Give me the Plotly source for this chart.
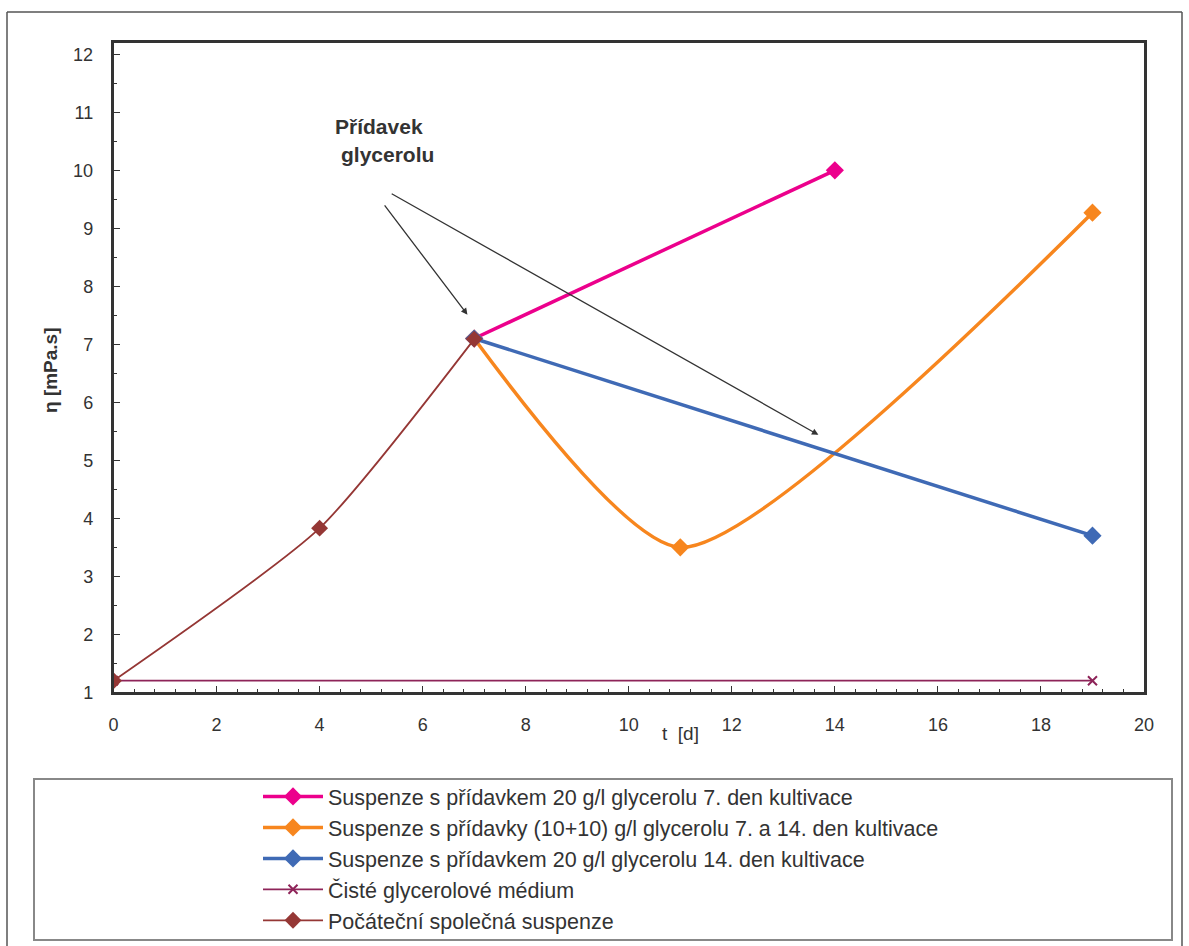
import plotly.graph_objects as go

# Viscosity of suspensions over cultivation time
t_pink = [7, 14]
eta_pink = [7.1, 10.0]

t_orange = [7, 11, 19]
eta_orange = [7.1, 3.5, 9.27]

t_blue = [7, 19]
eta_blue = [7.1, 3.7]

t_medium = [0, 19]
eta_medium = [1.2, 1.2]

t_initial = [0, 4, 7]
eta_initial = [1.2, 3.83, 7.09]

names = [
    "Suspenze s přídavkem 20 g/l glycerolu 7. den kultivace",
    "Suspenze s přídavky (10+10) g/l glycerolu 7. a 14. den kultivace",
    "Suspenze s přídavkem 20 g/l glycerolu 14. den kultivace",
    "Čisté glycerolové médium",
    "Počáteční společná suspenze",
]

x_ticks = list(range(0, 21, 2))
y_ticks = list(range(1, 13))

W, H = 1189, 946
FONT = "Liberation Sans, Arial, sans-serif"
TXT = "#333333"


def px(x):
    return x / W


def py(y):
    return 1 - y / H


fig = go.Figure()

fig.add_trace(go.Scatter(
    x=t_pink, y=eta_pink, name=names[0], mode="lines+markers",
    line=dict(color="#EC008C", width=3.5),
    marker=dict(symbol="diamond", size=14, color="#EC008C"),
))
fig.add_trace(go.Scatter(
    x=t_orange, y=eta_orange, name=names[1], mode="lines+markers",
    line=dict(color="#F7861E", width=3.5, shape="spline", smoothing=0.65),
    marker=dict(symbol="diamond", size=14, color="#F7861E"),
))
fig.add_trace(go.Scatter(
    x=t_blue, y=eta_blue, name=names[2], mode="lines+markers",
    line=dict(color="#3F6AB5", width=3.5),
    marker=dict(symbol="diamond", size=14, color="#3F6AB5"),
))
fig.add_trace(go.Scatter(
    x=t_medium, y=eta_medium, name=names[3], mode="lines+markers",
    line=dict(color="#8E2459", width=1.8),
    marker=dict(symbol="x-thin", size=9, color="#8E2459",
                line=dict(color="#8E2459", width=2)),
))
fig.add_trace(go.Scatter(
    x=t_initial, y=eta_initial, name=names[4], mode="lines+markers",
    line=dict(color="#953735", width=1.8, shape="spline", smoothing=0.6),
    marker=dict(symbol="diamond", size=13, color="#953735"),
))

# Arrows pointing to the glycerol additions
fig.add_annotation(
    x=6.87, y=7.51, ax=5.24, ay=9.42, xref="x", yref="y", axref="x", ayref="y",
    text="", showarrow=True, arrowhead=2, arrowsize=1, arrowwidth=1.3,
    arrowcolor="#333333",
)
fig.add_annotation(
    x=13.68, y=5.44, ax=5.37, ay=9.61, xref="x", yref="y", axref="x", ayref="y",
    text="", showarrow=True, arrowhead=2, arrowsize=1, arrowwidth=1.3,
    arrowcolor="#333333",
)
fig.add_annotation(
    x=px(379), y=py(127), xref="paper", yref="paper", xanchor="center",
    yanchor="middle", text="<b>Přídavek</b>", showarrow=False,
    font=dict(family=FONT, size=21, color=TXT),
)
fig.add_annotation(
    x=px(387), y=py(155), xref="paper", yref="paper", xanchor="center",
    yanchor="middle", text="<b>glycerolu</b>", showarrow=False,
    font=dict(family=FONT, size=21, color=TXT),
)

# Axis titles
fig.add_annotation(
    x=px(680), y=py(733), xref="paper", yref="paper", xanchor="center",
    yanchor="middle", text="t  [d]", showarrow=False,
    font=dict(family=FONT, size=19, color=TXT),
)
fig.add_annotation(
    x=px(50), y=py(370), xref="paper", yref="paper", xanchor="center",
    yanchor="middle", text="<b>η [mPa.s]</b>", showarrow=False,
    textangle=-90, font=dict(family=FONT, size=19, color=TXT),
)

# Outer chart frame (open at the bottom edge of the page) and legend box
frame = dict(color="#555555", width=1.5)
fig.add_shape(type="line", xref="paper", yref="paper",
              x0=px(7), x1=px(1182), y0=py(12), y1=py(12), line=frame)
fig.add_shape(type="line", xref="paper", yref="paper",
              x0=px(7), x1=px(7), y0=py(12), y1=0, line=frame)
fig.add_shape(type="line", xref="paper", yref="paper",
              x0=px(1182), x1=px(1182), y0=py(12), y1=0, line=frame)
fig.add_shape(type="rect", xref="paper", yref="paper",
              x0=px(34), x1=px(1172), y0=py(940), y1=py(779),
              line=dict(color="#888888", width=2), layer="below")

fig.update_layout(
    width=W, height=H,
    margin=dict(l=0, r=0, t=0, b=0),
    paper_bgcolor="white", plot_bgcolor="white",
    font=dict(family=FONT, size=18, color=TXT),
    legend=dict(
        x=px(258), y=py(776), xanchor="left", yanchor="top",
        font=dict(family=FONT, size=21.5, color=TXT),
        bgcolor="rgba(0,0,0,0)", itemwidth=60,
    ),
    xaxis=dict(
        domain=[px(113.5), px(1144)], range=[0, 20], automargin=False,
        tickvals=x_ticks, ticks="inside", ticklen=7, tickwidth=1.2,
        tickcolor="#333333", showline=True, linecolor="#333333", linewidth=2.5,
        mirror=True, showgrid=False, zeroline=False,
        tickfont=dict(family=FONT, size=18, color=TXT), ticklabelstandoff=14,
        minor=dict(dtick=0.4, ticks="inside", ticklen=4, tickcolor="#333333",
                   showgrid=False),
    ),
    yaxis=dict(
        domain=[py(692.3), py(42.7)], range=[1, 12.2], automargin=False,
        tickvals=y_ticks, ticks="inside", ticklen=7, tickwidth=1.2,
        tickcolor="#333333", showline=True, linecolor="#333333", linewidth=2.5,
        mirror=True, showgrid=False, zeroline=False,
        tickfont=dict(family=FONT, size=18, color=TXT), ticklabelstandoff=14,
        minor=dict(dtick=0.5, ticks="inside", ticklen=4, tickcolor="#333333",
                   showgrid=False),
    ),
)

fig.write_html("out.html")
